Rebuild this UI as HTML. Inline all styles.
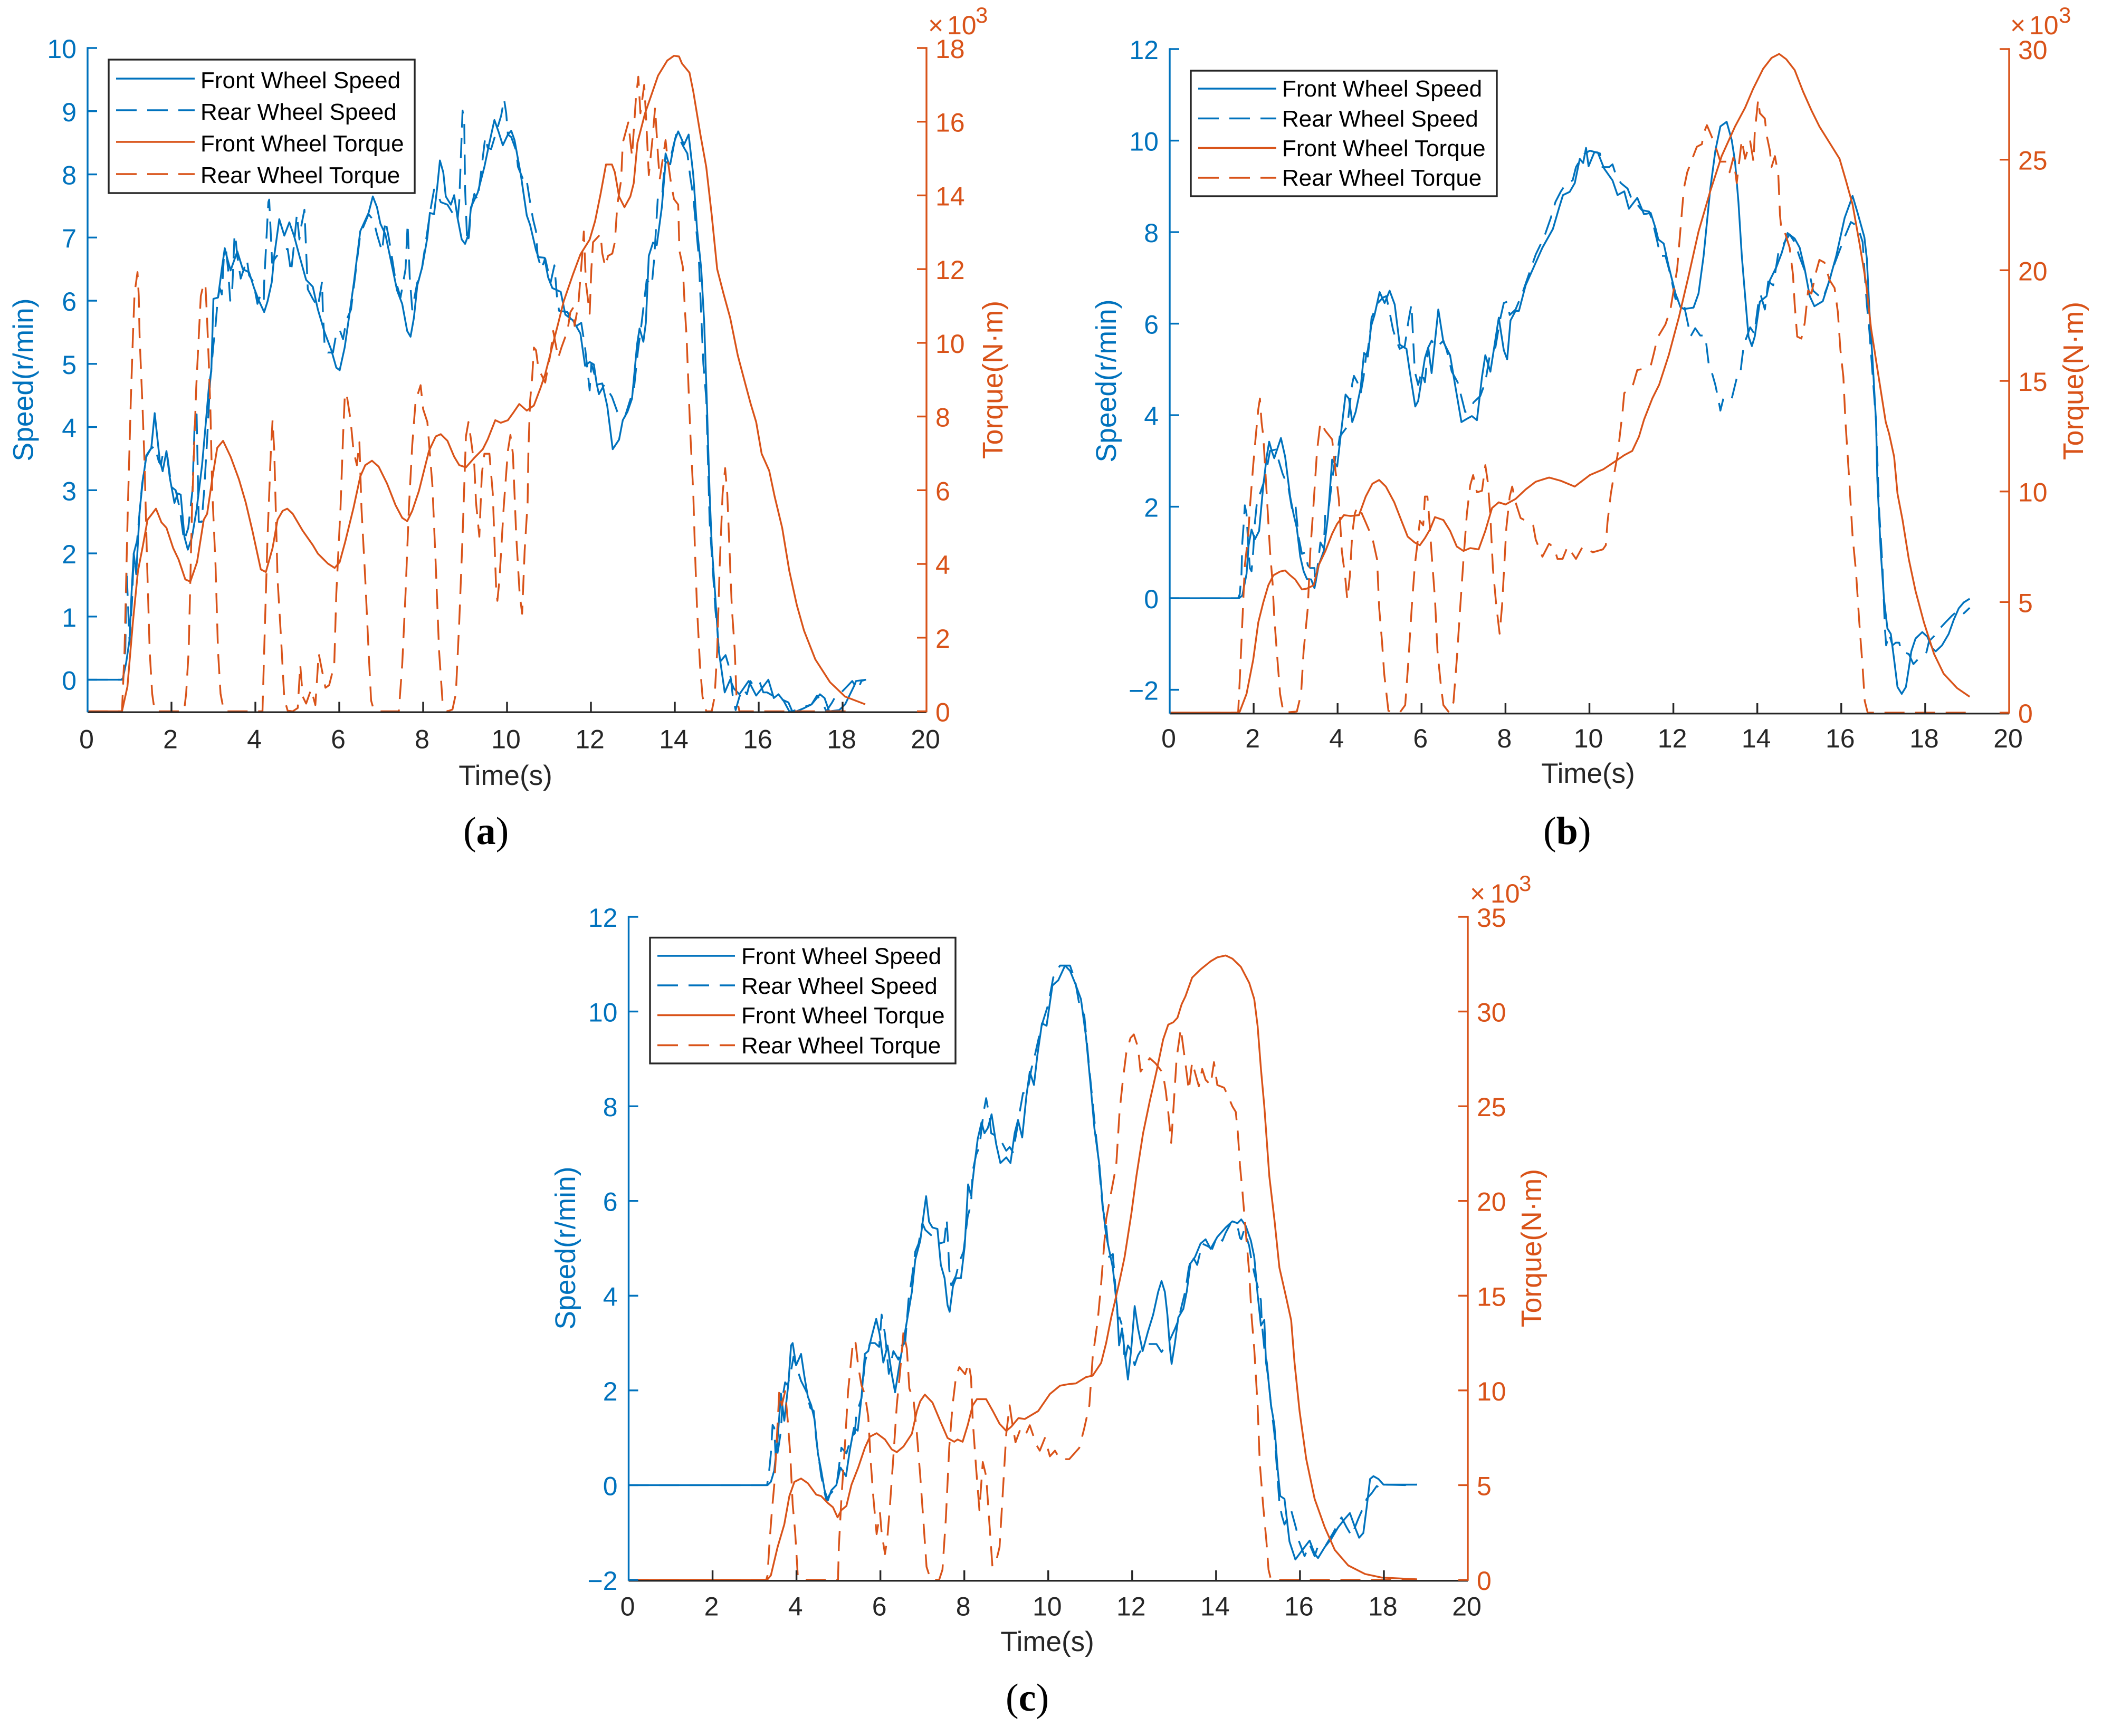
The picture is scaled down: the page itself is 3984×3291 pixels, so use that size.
<!DOCTYPE html>
<html lang="en">
<head>
<meta charset="utf-8">
<title>Wheel speed and torque over time, panels a, b and c</title>
<style>
html,body{margin:0;padding:0;background:#fff}
svg{display:block}
text{font-family:"Liberation Sans",Arial,sans-serif}
.cap{font-family:"Liberation Serif","Times New Roman",serif;font-size:74px;fill:#000}
.cap tspan.b{font-weight:bold}
.lg{font-size:44px;fill:#000}
.tq{fill:#D95319}.sp{fill:#0072BD}
.at{font-size:53.5px}
.tm{font-size:53px;fill:#262626}
.m{font-size:50px;fill:#D95319}
.e{font-size:42px;fill:#D95319}
</style>
</head>
<body>
<svg id="figure" xmlns="http://www.w3.org/2000/svg" width="3984" height="3291" viewBox="0 0 3984 3291">
<rect x="0" y="0" width="3984" height="3291" fill="#fff"/>
<defs>
<clipPath id="clipa"><rect x="166" y="91" width="1590" height="1259.5"/></clipPath>
<clipPath id="clipb"><rect x="2217" y="93" width="1591" height="1260"/></clipPath>
<clipPath id="clipc"><rect x="1191.5" y="1738" width="1590.5" height="1259"/></clipPath>
</defs>

<g id="panel-a">
<g id="marks-a" clip-path="url(#clipa)" fill="none" stroke-width="3.4" stroke-linejoin="round"></g>
<g id="axes-a"></g>
<text class="at sp" transform="translate(62.5 720) rotate(-90)" text-anchor="middle">Speed(r/min)</text>
<text class="at tq" transform="translate(1900 720) rotate(-90)" text-anchor="middle">Torque(N·m)</text>
<text class="tm" x="958" y="1488" text-anchor="middle">Time(s)</text>
<text class="m" x="1759" y="65">×</text>
<text class="m" x="1795" y="65">10</text>
<text class="e" x="1849" y="43">3</text>
<text class="cap" x="878" y="1600">(<tspan class="b">a</tspan>)</text>
<g>
<rect x="206" y="113" width="580" height="253" fill="#fff" stroke="#262626" stroke-width="3.4"/>
<line x1="220" x2="369" y1="149" y2="149" stroke="#0072BD" stroke-width="3.4"/>
<text class="lg" x="380" y="167">Front Wheel Speed</text>
<line x1="220" x2="369" y1="209" y2="209" stroke="#0072BD" stroke-width="3.4" stroke-dasharray="39 20"/>
<text class="lg" x="380" y="227">Rear Wheel Speed</text>
<line x1="220" x2="369" y1="269" y2="269" stroke="#D95319" stroke-width="3.4"/>
<text class="lg" x="380" y="287">Front Wheel Torque</text>
<line x1="220" x2="369" y1="330" y2="330" stroke="#D95319" stroke-width="3.4" stroke-dasharray="39 20"/>
<text class="lg" x="380" y="347">Rear Wheel Torque</text>
</g>
</g>

<g id="panel-b">
<g id="marks-b" clip-path="url(#clipb)" fill="none" stroke-width="3.4" stroke-linejoin="round"></g>
<g id="axes-b"></g>
<text class="at sp" transform="translate(2115 722) rotate(-90)" text-anchor="middle">Speed(r/min)</text>
<text class="at tq" transform="translate(3948 722) rotate(-90)" text-anchor="middle">Torque(N·m)</text>
<text class="tm" x="3010" y="1484" text-anchor="middle">Time(s)</text>
<text class="m" x="3810" y="65">×</text>
<text class="m" x="3846" y="65">10</text>
<text class="e" x="3902" y="43">3</text>
<text class="cap" x="2925" y="1600">(<tspan class="b">b</tspan>)</text>
<g>
<rect x="2257" y="134" width="580" height="238" fill="#fff" stroke="#262626" stroke-width="3.4"/>
<line x1="2271" x2="2419" y1="168" y2="168" stroke="#0072BD" stroke-width="3.4"/>
<text class="lg" x="2430" y="183">Front Wheel Speed</text>
<line x1="2271" x2="2419" y1="224.5" y2="224.5" stroke="#0072BD" stroke-width="3.4" stroke-dasharray="39 20"/>
<text class="lg" x="2430" y="240">Rear Wheel Speed</text>
<line x1="2271" x2="2419" y1="280.5" y2="280.5" stroke="#D95319" stroke-width="3.4"/>
<text class="lg" x="2430" y="296">Front Wheel Torque</text>
<line x1="2271" x2="2419" y1="337" y2="337" stroke="#D95319" stroke-width="3.4" stroke-dasharray="39 20"/>
<text class="lg" x="2430" y="352">Rear Wheel Torque</text>
</g>
</g>

<g id="panel-c">
<g id="marks-c" clip-path="url(#clipc)" fill="none" stroke-width="3.4" stroke-linejoin="round"></g>
<g id="axes-c"></g>
<text class="at sp" transform="translate(1090 2366) rotate(-90)" text-anchor="middle">Speed(r/min)</text>
<text class="at tq" transform="translate(2921 2366) rotate(-90)" text-anchor="middle">Torque(N·m)</text>
<text class="tm" x="1985" y="3130" text-anchor="middle">Time(s)</text>
<text class="m" x="2786" y="1711">×</text>
<text class="m" x="2825" y="1711">10</text>
<text class="e" x="2879" y="1689">3</text>
<text class="cap" x="1906" y="3243">(<tspan class="b">c</tspan>)</text>
<g>
<rect x="1232" y="1777.5" width="579" height="238.5" fill="#fff" stroke="#262626" stroke-width="3.4"/>
<line x1="1246" x2="1393" y1="1812" y2="1812" stroke="#0072BD" stroke-width="3.4"/>
<text class="lg" x="1405" y="1827.5">Front Wheel Speed</text>
<line x1="1246" x2="1393" y1="1868" y2="1868" stroke="#0072BD" stroke-width="3.4" stroke-dasharray="39 20"/>
<text class="lg" x="1405" y="1884">Rear Wheel Speed</text>
<line x1="1246" x2="1393" y1="1924.5" y2="1924.5" stroke="#D95319" stroke-width="3.4"/>
<text class="lg" x="1405" y="1940">Front Wheel Torque</text>
<line x1="1246" x2="1393" y1="1981.5" y2="1981.5" stroke="#D95319" stroke-width="3.4" stroke-dasharray="39 20"/>
<text class="lg" x="1405" y="1997">Rear Wheel Torque</text>
</g>
</g>
</svg>

<script>
// Shared tick labels
const timeTicks=[0,2,4,6,8,10,12,14,16,18,20];
const aSpeedTicks=[0,1,2,3,4,5,6,7,8,9,10];
const aTorqueTicks=[0,2,4,6,8,10,12,14,16,18];
const bSpeedTicks=[-2,0,2,4,6,8,10,12];
const bTorqueTicks=[0,5,10,15,20,25,30];
const cSpeedTicks=[-2,0,2,4,6,8,10,12];
const cTorqueTicks=[0,5,10,15,20,25,30,35];

// Panel (a): [time s, speed r/min]
const aFrontSpeed=[[0,0],[.8,0],[.84,.02],[.92,.27],[1,.63],[1.05,1.4],[1.1,2],[1.16,1.67],[1.24,2.67],[1.32,3.17],[1.4,3.53],[1.52,3.67],[1.6,4.22],[1.72,3.48],[1.79,3.3],[1.88,3.62],[1.96,3.2],[2.07,2.8],[2.15,2.95],[2.22,2.93],[2.31,2.26],[2.39,2.06],[2.49,2.26],[2.6,2.7],[2.73,3.4],[2.82,4.08],[2.9,4.7],[2.95,4.88],[3,6.03],[3.11,6.05],[3.2,6.5],[3.27,6.83],[3.33,6.67],[3.41,6.48],[3.57,6.78],[3.7,6.5],[3.85,6.45],[3.97,6.2],[4.09,5.99],[4.21,5.82],[4.29,5.99],[4.39,6.29],[4.45,6.71],[4.57,7.29],[4.69,7.03],[4.81,7.24],[4.93,7.01],[5.05,6.71],[5.21,6.33],[5.37,6.22],[5.49,5.86],[5.65,5.5],[5.81,5.22],[5.93,4.94],[6.01,4.9],[6.13,5.26],[6.25,5.82],[6.35,6.29],[6.5,7.1],[6.7,7.39],[6.8,7.65],[6.9,7.48],[6.98,7.22],[7.1,7.05],[7.26,6.54],[7.38,6.16],[7.5,5.95],[7.62,5.52],[7.7,5.43],[7.78,5.73],[7.86,6.24],[7.98,6.54],[8.1,7],[8.16,7.39],[8.26,7.37],[8.34,7.82],[8.4,8.22],[8.48,8.03],[8.54,7.65],[8.66,7.52],[8.74,7.67],[8.82,7.31],[8.92,6.97],[9,6.9],[9.08,7.05],[9.14,7.48],[9.3,7.71],[9.46,8.12],[9.58,8.5],[9.7,8.86],[9.8,8.67],[9.9,8.46],[10.02,8.63],[10.1,8.69],[10.18,8.54],[10.33,7.99],[10.47,7.35],[10.55,7.2],[10.69,6.8],[10.75,6.69],[10.89,6.68],[10.98,6.37],[11.08,6.2],[11.28,6.14],[11.39,5.78],[11.57,5.69],[11.75,5.48],[11.86,4.97],[11.97,5.03],[12.07,4.99],[12.14,4.67],[12.27,4.69],[12.39,4.33],[12.52,3.65],[12.67,3.8],[12.76,4.11],[12.87,4.24],[12.98,4.45],[13.1,5.31],[13.16,5.56],[13.25,5.35],[13.31,5.65],[13.38,6.71],[13.48,6.92],[13.57,6.88],[13.69,7.48],[13.78,8.2],[13.89,8.16],[14,8.54],[14.08,8.68],[14.22,8.47],[14.33,8.63],[14.44,7.99],[14.53,7.14],[14.63,6.5],[14.7,5.65],[14.77,4.28],[14.79,3.8],[14.83,2.95],[14.88,2.13],[14.97,1.27],[15.05,.45],[15.19,-.2],[15.32,0],[15.41,-.14],[15.54,-.23],[15.76,-.02],[15.94,-.25],[16.07,-.14],[16.23,0],[16.36,-.29],[16.47,-.23],[16.6,-.34],[16.73,-.5],[16.9,-.5],[17.08,-.45],[17.26,-.39],[17.46,-.23],[17.57,-.29],[17.68,-.5],[17.92,-.48],[18.06,-.39],[18.28,-.09],[18.32,-.02],[18.56,0]];
const aRearSpeed=[[0,0],[.85,0],[.9,.5],[.93,1.75],[1,.6],[1.06,1.25],[1.1,2],[1.18,2.2],[1.3,3.1],[1.4,3.55],[1.5,3.65],[1.6,3.7],[1.7,3.45],[1.75,3.4],[1.8,3.6],[1.9,3.55],[2,3.05],[2.1,3],[2.2,2.7],[2.3,2.2],[2.4,2.4],[2.45,2.7],[2.5,3],[2.55,4],[2.6,4.2],[2.65,2.5],[2.72,2.5],[2.78,3],[2.85,3.8],[2.92,4.7],[3,5.3],[3.05,5.6],[3.1,6],[3.15,6.2],[3.2,6.1],[3.25,6.7],[3.3,6.8],[3.35,6.5],[3.4,6],[3.45,6.2],[3.5,7],[3.52,7.05],[3.57,6.7],[3.65,6.35],[3.75,6.55],[3.8,6.65],[3.85,6.4],[3.95,6.3],[4.05,5.95],[4.1,6.05],[4.2,5.95],[4.21,6.29],[4.31,7.56],[4.33,7.6],[4.4,6.6],[4.5,6.7],[4.65,6.8],[4.77,6.82],[4.85,6.45],[4.9,6.75],[4.99,7.37],[5.05,6.97],[5.1,7.2],[5.17,7.44],[5.21,6.8],[5.25,6.18],[5.37,6.03],[5.49,5.9],[5.59,6.3],[5.61,5.82],[5.65,5.3],[5.73,5.18],[5.85,5.18],[5.93,5.48],[6.01,5.54],[6.09,5.39],[6.17,5.69],[6.28,5.86],[6.5,7.05],[6.7,7.37],[6.82,7.27],[6.9,7.05],[7.02,6.78],[7.1,7.27],[7.18,7],[7.26,6.67],[7.34,6.33],[7.46,6.05],[7.58,6.5],[7.63,7.22],[7.68,6.37],[7.74,5.86],[7.86,6.29],[7.94,6.37],[8.18,7.46],[8.26,7.76],[8.34,7.69],[8.42,7.56],[8.58,7.52],[8.7,7.39],[8.82,7.27],[8.86,7.56],[8.94,9.01],[8.98,8.84],[9,7.78],[9.05,6.92],[9.09,7.01],[9.14,7.44],[9.22,7.69],[9.3,7.6],[9.38,8.03],[9.48,8.59],[9.54,8.42],[9.62,8.4],[9.86,8.93],[9.93,9.19],[9.98,8.97],[10.02,8.63],[10.1,8.59],[10.22,8.37],[10.26,8.12],[10.42,7.86],[10.47,7.9],[10.51,7.73],[10.55,7.56],[10.62,7.29],[10.69,7.1],[10.73,6.71],[10.82,6.5],[10.91,6.67],[11.04,6.29],[11.13,6.56],[11.19,6.07],[11.24,5.84],[11.44,5.82],[11.61,5.58],[11.77,5.65],[11.86,5.26],[11.97,4.58],[12.01,5],[12.1,4.8],[12.19,4.52],[12.32,4.67],[12.5,4.48],[12.63,4.24],[12.8,4.14],[13.03,4.63],[13.12,5.2],[13.2,5.6],[13.33,6.33],[13.45,6.24],[13.51,6.67],[13.6,7.69],[13.7,7.69],[13.78,8.33],[13.86,8.16],[14.04,8.65],[14.22,8.42],[14.3,8.33],[14.37,7.95],[14.44,7.65],[14.48,7.35],[14.57,6.71],[14.61,6.07],[14.68,5],[14.75,4.45],[14.83,2.5],[14.97,1.09],[15.01,.82],[15.04,.54],[15.1,.3],[15.21,.39],[15.28,.23],[15.34,0],[15.38,-.25],[15.45,-.48],[15.54,-.27],[15.63,-.14],[15.72,-.23],[15.8,-.02],[15.89,-.11],[16.03,-.05],[16.11,-.2],[16.2,-.2],[16.38,-.27],[16.51,-.3],[16.71,-.36],[16.8,-.5],[17,-.45],[17.26,-.39],[17.39,-.25],[17.53,-.37],[17.61,-.5],[17.75,-.36],[17.84,-.25],[17.97,-.2],[18.1,-.11],[18.23,-.02],[18.36,-.16],[18.45,-.02],[18.54,0]];
// Panel (a): [time s, torque x10^3 N·m]
const aFrontTorque=[[0,0],[.82,0],[.95,.67],[1.08,2.42],[1.2,3.8],[1.32,4.5],[1.43,5.2],[1.52,5.33],[1.63,5.5],[1.76,5.13],[1.88,4.98],[2.04,4.43],[2.17,4.12],[2.33,3.58],[2.45,3.52],[2.61,4.05],[2.77,5.2],[2.85,5.36],[2.97,6.29],[3.09,7.15],[3.23,7.34],[3.41,6.91],[3.61,6.29],[3.77,5.67],[3.93,4.9],[4.13,3.85],[4.25,3.78],[4.41,4.43],[4.53,5.2],[4.65,5.44],[4.76,5.5],[4.89,5.36],[5.13,4.9],[5.37,4.51],[5.49,4.28],[5.73,4.01],[5.89,3.89],[6.01,4.05],[6.14,4.59],[6.34,5.52],[6.5,6.37],[6.62,6.68],[6.78,6.8],[6.94,6.64],[7.14,6.18],[7.34,5.6],[7.5,5.25],[7.62,5.16],[7.74,5.44],[7.9,5.98],[8.02,6.53],[8.14,7.07],[8.3,7.46],[8.42,7.52],[8.58,7.34],[8.74,6.91],[8.86,6.68],[9.02,6.62],[9.22,6.88],[9.42,7.11],[9.54,7.38],[9.72,7.9],[9.85,7.83],[10.02,7.9],[10.16,8.12],[10.29,8.34],[10.47,8.16],[10.64,8.3],[10.8,8.78],[10.91,9.15],[11.04,9.73],[11.22,10.53],[11.35,11.12],[11.57,11.85],[11.75,12.4],[11.97,12.8],[12.1,13.31],[12.23,14.04],[12.36,14.84],[12.5,14.84],[12.57,14.63],[12.67,13.97],[12.8,13.68],[12.94,13.97],[13.02,14.33],[13.11,15.43],[13.29,16.23],[13.47,16.82],[13.6,17.25],[13.82,17.66],[13.98,17.79],[14.1,17.77],[14.17,17.58],[14.35,17.33],[14.44,16.82],[14.61,15.65],[14.75,14.77],[14.88,13.46],[15.01,12],[15.16,11.34],[15.32,10.68],[15.5,9.66],[15.67,8.93],[15.81,8.34],[15.94,7.85],[16.07,6.99],[16.25,6.53],[16.38,5.83],[16.56,4.98],[16.73,3.81],[16.91,2.88],[17.08,2.19],[17.35,1.41],[17.7,.79],[18.06,.4],[18.54,.19]];
const aRearTorque=[[0,0],[.82,0],[.88,1.64],[.96,5.52],[1.03,8.42],[1.08,10.17],[1.12,11.34],[1.19,11.92],[1.22,11.27],[1.24,10.17],[1.31,8.27],[1.36,6.68],[1.42,3.97],[1.48,1.64],[1.54,.48],[1.6,0],[2.3,0],[2.35,.48],[2.41,1.64],[2.45,3.58],[2.49,5.52],[2.55,7.46],[2.59,8.78],[2.65,10.17],[2.7,11.27],[2.77,11.62],[2.81,11.56],[2.85,10.61],[2.89,9.44],[2.93,8.12],[2.97,6.06],[3.05,3.97],[3.11,1.64],[3.17,.48],[3.25,0],[4.17,0],[4.21,1.64],[4.29,4.74],[4.37,7.07],[4.41,7.9],[4.45,7.07],[4.53,3.58],[4.61,2.03],[4.69,.33],[4.77,.02],[4.89,0],[5.01,.09],[5.07,1.26],[5.13,.4],[5.21,.21],[5.33,.6],[5.43,.17],[5.47,.87],[5.51,1.57],[5.67,.64],[5.76,.71],[5.88,1.26],[5.93,3.19],[6.03,5.52],[6.09,7.46],[6.13,8.49],[6.17,8.65],[6.27,7.9],[6.34,7.07],[6.42,6.68],[6.48,7.3],[6.53,5.52],[6.62,3.58],[6.7,1.64],[6.76,.29],[6.82,.05],[6.94,0],[7.42,0],[7.5,1.26],[7.58,3.19],[7.66,5.52],[7.74,7.22],[7.82,8.42],[7.94,8.85],[8,8.2],[8.1,7.85],[8.22,6.14],[8.3,3.97],[8.38,1.64],[8.46,.29],[8.58,0],[8.7,.05],[8.78,.48],[8.86,2.42],[8.94,4.74],[9.02,7.46],[9.08,7.85],[9.14,7.38],[9.22,6.68],[9.26,5.67],[9.34,4.74],[9.4,6.45],[9.46,6.99],[9.58,6.99],[9.66,5.91],[9.74,3.35],[9.77,3],[9.82,3.58],[9.92,5.52],[10.02,7.07],[10.08,7.5],[10.14,6.99],[10.22,4.74],[10.3,3.19],[10.36,2.65],[10.42,4.36],[10.49,5.67],[10.51,7.07],[10.55,8.42],[10.6,9.07],[10.64,9.87],[10.69,9.8],[10.75,9.29],[10.8,9.18],[10.91,8.92],[11.04,9.73],[11.1,10.32],[11.22,9.59],[11.3,9.88],[11.44,10.32],[11.51,10.83],[11.57,10.94],[11.61,10.46],[11.7,11.05],[11.79,12.36],[11.83,13.02],[11.88,11.63],[11.97,10.79],[12.01,12],[12.05,12.73],[12.23,12.95],[12.27,12.43],[12.34,12.07],[12.41,12.36],[12.51,12.42],[12.57,12.73],[12.63,13.75],[12.72,14.41],[12.76,15.43],[12.89,15.98],[12.98,15.06],[13.07,16.6],[13.13,17.22],[13.18,16.23],[13.27,17],[13.31,16.23],[13.38,14.55],[13.47,15.57],[13.53,16.38],[13.6,15.06],[13.64,14.44],[13.78,15.5],[13.82,15.06],[13.91,14.33],[13.98,13.9],[14.08,13.75],[14.11,12.5],[14.19,12.07],[14.24,10.9],[14.28,10.17],[14.33,8.71],[14.37,7.54],[14.44,5.92],[14.48,4.36],[14.53,2.81],[14.6,1.26],[14.66,.4],[14.75,0],[14.88,0],[14.95,.4],[15.01,1.64],[15.07,3.97],[15.14,5.91],[15.2,6.6],[15.25,5.91],[15.3,4.51],[15.36,2.81],[15.43,1.64],[15.47,.4],[15.54,0],[18.32,0]];

// Panel (b): [time s, speed r/min]
const bFrontSpeed=[[0,0],[1.65,0],[1.73,.06],[1.83,.53],[1.88,1.16],[1.95,1.5],[2.03,1.29],[2.13,1.47],[2.23,2.47],[2.31,3.09],[2.37,3.42],[2.43,3.22],[2.49,3.06],[2.57,3.28],[2.65,3.5],[2.75,3.09],[2.87,2.22],[2.95,1.84],[3.03,1.53],[3.11,.91],[3.19,.59],[3.27,.42],[3.37,.41],[3.45,.22],[3.55,.72],[3.67,1.03],[3.77,1.78],[3.87,3.03],[3.99,2.88],[4.07,3.53],[4.19,4.45],[4.27,4.36],[4.35,3.85],[4.43,4.07],[4.55,4.6],[4.63,5.36],[4.72,5.28],[4.8,5.95],[4.88,6.19],[5,6.69],[5.12,6.45],[5.24,6.72],[5.36,6.42],[5.48,5.54],[5.64,5.45],[5.72,4.95],[5.85,4.19],[5.92,4.31],[6.08,5.25],[6.16,5.48],[6.24,4.92],[6.4,6.31],[6.52,5.6],[6.68,5.31],[6.8,4.66],[6.95,3.85],[7.08,3.92],[7.2,3.98],[7.32,3.89],[7.44,4.84],[7.52,5.31],[7.64,4.95],[7.84,6.13],[7.96,5.42],[8.04,5.22],[8.12,6.07],[8.24,6.28],[8.32,6.28],[8.48,6.84],[8.68,7.25],[8.88,7.66],[9.13,8.07],[9.28,8.54],[9.37,8.81],[9.53,8.88],[9.65,9.07],[9.77,9.6],[9.85,9.51],[9.92,9.84],[9.98,9.44],[10.12,9.75],[10.2,9.74],[10.35,9.39],[10.55,9.13],[10.67,8.81],[10.83,8.89],[10.94,8.51],[11.14,8.75],[11.3,8.39],[11.46,8.42],[11.58,8.07],[11.64,7.84],[11.77,7.75],[11.89,7.25],[12.05,6.66],[12.17,6.36],[12.25,6.32],[12.48,6.35],[12.6,6.66],[12.72,7.48],[12.88,8.95],[13,9.78],[13.12,10.31],[13.27,10.41],[13.39,10.01],[13.47,9.54],[13.55,8.66],[13.63,7.48],[13.71,6.6],[13.79,5.72],[13.87,5.51],[13.94,5.72],[14.06,6.48],[14.22,6.6],[14.3,6.95],[14.46,7.25],[14.58,7.54],[14.72,7.98],[14.89,7.86],[15.01,7.66],[15.13,7.19],[15.25,6.6],[15.36,6.38],[15.56,6.49],[15.72,6.95],[15.88,7.48],[16.08,8.31],[16.27,8.79],[16.39,8.42],[16.55,7.89],[16.61,7.42],[16.67,6.31],[16.75,5.13],[16.83,3.84],[16.86,2.59],[16.94,1.03],[17.02,-.03],[17.1,-.66],[17.18,-.78],[17.26,-1.34],[17.34,-1.94],[17.44,-2.09],[17.54,-1.94],[17.61,-1.53],[17.67,-1.16],[17.77,-.88],[17.93,-.74],[18.05,-.84],[18.17,-1.09],[18.25,-1.16],[18.4,-1.03],[18.56,-.78],[18.68,-.47],[18.8,-.22],[18.92,-.09],[19.06,-.01]];
const bRearSpeed=[[0,0],[1.63,0],[1.67,.09],[1.71,.53],[1.73,1.22],[1.76,1.59],[1.79,2.03],[1.83,1.84],[1.87,1.16],[1.91,.66],[1.95,.59],[1.99,1.03],[2.03,1.66],[2.07,2.03],[2.15,2.28],[2.23,2.5],[2.29,2.72],[2.39,3.22],[2.53,3.25],[2.59,3.03],[2.69,2.72],[2.83,2.41],[2.91,1.97],[2.99,2.09],[3.07,1.34],[3.15,.97],[3.23,1],[3.29,.72],[3.35,.66],[3.45,.66],[3.47,.28],[3.59,1.22],[3.67,1.09],[3.71,1.91],[3.79,1.97],[3.87,2.59],[3.95,3.09],[4.01,3.28],[4.05,3.53],[4.23,3.75],[4.35,4.69],[4.39,4.86],[4.47,4.72],[4.55,4.48],[4.62,4.84],[4.68,5.31],[4.72,5.42],[4.78,5.84],[4.81,6.13],[4.96,6.45],[5.08,6.57],[5.16,6.6],[5.24,6.25],[5.32,5.87],[5.4,5.63],[5.48,5.45],[5.6,5.51],[5.69,6.07],[5.76,6.42],[5.8,5.66],[5.84,4.95],[5.92,4.66],[6,4.95],[6.08,4.72],[6.16,5.48],[6.24,5.63],[6.36,5.48],[6.52,5.63],[6.6,5.42],[6.72,4.95],[6.86,4.72],[6.96,4.36],[7.04,4.07],[7.16,4.13],[7.24,4.28],[7.4,4.42],[7.52,4.72],[7.64,5.39],[7.76,5.48],[7.88,6.13],[7.96,6.45],[8.04,6.48],[8.1,6.19],[8.24,6.31],[8.4,6.66],[8.6,7.19],[8.72,7.51],[8.92,7.89],[9.08,8.31],[9.19,8.66],[9.32,8.89],[9.46,9.08],[9.6,9.13],[9.68,9.42],[9.85,9.69],[10.01,9.78],[10.25,9.72],[10.31,9.42],[10.47,9.42],[10.55,9.48],[10.63,9.25],[10.75,9.07],[10.91,8.95],[11.02,8.69],[11.14,8.6],[11.25,8.48],[11.42,8.45],[11.5,8.25],[11.62,7.78],[11.69,7.48],[11.81,7.48],[11.93,7.07],[12.05,6.54],[12.13,6.54],[12.25,6.42],[12.33,6.07],[12.41,5.72],[12.52,5.9],[12.64,5.74],[12.76,5.74],[12.84,5.13],[12.93,4.89],[13,4.66],[13.08,4.31],[13.12,4.1],[13.19,4.36],[13.31,4.42],[13.39,4.36],[13.51,4.81],[13.59,4.86],[13.63,5.19],[13.68,5.54],[13.83,5.92],[13.93,5.78],[14.02,6.42],[14.08,6.63],[14.18,6.31],[14.26,6.92],[14.38,6.84],[14.5,7.54],[14.65,7.78],[14.77,7.95],[14.89,7.78],[15.01,7.45],[15.13,7.16],[15.25,7.07],[15.33,6.72],[15.44,6.63],[15.56,6.54],[15.68,6.84],[15.84,7.31],[16.08,7.89],[16.23,8.22],[16.39,8.13],[16.51,7.78],[16.55,7.19],[16.61,6.42],[16.67,5.84],[16.75,4.84],[16.83,3.85],[16.9,1.97],[16.98,.72],[17.04,-.66],[17.07,-1.03],[17.14,-.78],[17.22,-1.03],[17.3,-.97],[17.38,-.97],[17.43,-1.16],[17.61,-1.22],[17.72,-1.44],[17.83,-1.33],[18.03,-1.18],[18.09,-.94],[18.21,-.83],[18.38,-.63],[18.48,-.53],[18.64,-.38],[18.8,-.25],[18.92,-.33],[19.06,-.21]];
// Panel (b): [time s, torque x10^3 N·m]
const bFrontTorque=[[0,0],[1.65,0],[1.67,.05],[1.83,.85],[1.99,2.4],[2.11,4.08],[2.23,4.99],[2.35,5.76],[2.47,6.21],[2.63,6.38],[2.75,6.43],[2.87,6.21],[2.99,6.02],[3.15,5.57],[3.27,5.61],[3.43,5.76],[3.55,6.67],[3.71,7.31],[3.87,8.09],[3.99,8.54],[4.15,8.93],[4.31,8.89],[4.51,8.93],[4.67,9.77],[4.83,10.35],[4.99,10.52],[5.15,10.22],[5.35,9.51],[5.51,8.73],[5.67,7.96],[5.83,7.7],[5.96,7.57],[6.08,7.89],[6.2,8.28],[6.32,8.84],[6.52,8.71],[6.68,8.22],[6.84,7.51],[7,7.31],[7.16,7.44],[7.36,7.38],[7.52,8.22],[7.68,9.25],[7.84,9.51],[8,9.41],[8.24,9.66],[8.48,10.09],[8.72,10.44],[9.04,10.63],[9.32,10.48],[9.65,10.22],[10.01,10.74],[10.33,11],[10.63,11.38],[10.83,11.64],[11.02,11.83],[11.18,12.48],[11.3,13.24],[11.5,14.21],[11.66,14.82],[11.89,16.16],[12.13,17.86],[12.37,19.8],[12.6,21.75],[12.88,23.58],[13.15,25.16],[13.47,26.5],[13.71,27.35],[13.9,28.2],[14.14,29.11],[14.34,29.6],[14.52,29.78],[14.69,29.54],[14.89,29.05],[15.09,28.08],[15.29,27.23],[15.48,26.5],[15.72,25.77],[15.96,25.04],[16.11,24.06],[16.27,22.97],[16.43,21.27],[16.59,19.44],[16.71,17.37],[16.86,15.55],[17.06,13.14],[17.14,12.61],[17.26,11.57],[17.34,9.9],[17.46,8.72],[17.61,6.93],[17.77,5.5],[17.97,4.08],[18.21,2.66],[18.44,1.76],[18.76,1.11],[19.06,.72]];
const bRearTorque=[[0,0],[1.63,0],[1.67,1.5],[1.73,4.08],[1.79,6.67],[1.87,8],[1.91,9.25],[1.99,11.2],[2.05,12.5],[2.11,13.72],[2.15,14.2],[2.19,13.1],[2.23,12.5],[2.31,9.9],[2.39,7.31],[2.45,5.89],[2.49,4.34],[2.55,2.79],[2.63,.85],[2.71,0],[3.03,.05],[3.13,.85],[3.19,2.79],[3.29,4.73],[3.35,7.31],[3.43,9.51],[3.51,11.83],[3.59,13.13],[3.71,12.74],[3.87,12.35],[3.95,10.93],[4.03,9.64],[4.1,7.31],[4.18,6.15],[4.23,5.12],[4.29,6.15],[4.35,8.09],[4.41,8.99],[4.47,9.32],[4.55,9.12],[4.67,8.6],[4.83,7.89],[4.94,6.93],[4.99,4.73],[5.06,3.18],[5.11,1.76],[5.21,.08],[5.48,0],[5.61,.34],[5.68,2.14],[5.77,4.86],[5.84,6.67],[5.89,7.44],[5.96,8.67],[6.04,8.47],[6.08,9.77],[6.14,9.77],[6.18,8.86],[6.24,7.18],[6.32,5.12],[6.38,2.79],[6.46,1.24],[6.52,.34],[6.66,0],[6.76,.47],[6.84,2.4],[6.92,4.73],[7,6.93],[7.08,8.99],[7.16,10.28],[7.23,10.74],[7.32,9.96],[7.44,10.03],[7.52,11.19],[7.58,10.41],[7.64,8.86],[7.7,6.54],[7.78,4.86],[7.86,3.57],[7.92,4.86],[8.02,8.35],[8.1,9.77],[8.16,10.22],[8.24,9.51],[8.36,8.8],[8.56,8.6],[8.66,8.47],[8.72,7.83],[8.88,7.05],[9.04,7.64],[9.16,7.44],[9.24,6.95],[9.36,6.95],[9.48,7.51],[9.68,6.95],[9.84,7.51],[10.08,7.25],[10.32,7.38],[10.39,7.57],[10.43,8.6],[10.51,9.9],[10.59,10.8],[10.67,11.64],[10.79,13.6],[10.83,14.45],[11.02,14.7],[11.14,15.49],[11.3,15.55],[11.46,15.67],[11.54,16.28],[11.62,16.95],[11.81,17.55],[11.93,18.22],[12.09,20.05],[12.17,21.87],[12.25,23.7],[12.33,24.43],[12.45,25.04],[12.56,25.58],[12.68,25.7],[12.72,26.19],[12.8,26.56],[12.92,26.01],[13.04,25.4],[13.12,24.91],[13.27,24.91],[13.34,24.43],[13.43,25.1],[13.51,23.94],[13.55,24.61],[13.63,25.89],[13.71,25.04],[13.83,25.83],[13.91,24.91],[13.94,26.25],[14.02,27.71],[14.06,27.1],[14.18,26.86],[14.22,26.13],[14.3,25.4],[14.34,24.67],[14.42,25.16],[14.5,24.31],[14.54,22.48],[14.58,21.75],[14.65,21.75],[14.77,21.02],[14.85,19.8],[14.89,18.47],[14.95,17],[15.05,16.91],[15.13,17.62],[15.21,19.08],[15.29,18.95],[15.4,19.93],[15.48,20.47],[15.6,20.35],[15.72,19.56],[15.84,19.2],[15.92,18.1],[15.98,16.4],[16.05,15.18],[16.1,13.14],[16.19,10.54],[16.27,7.96],[16.35,6.41],[16.43,4.08],[16.51,2.02],[16.56,.53],[16.63,0],[19.06,0]];

// Panel (c): [time s, speed r/min]
const cFrontSpeed=[[0,0],[3.31,0],[3.39,.07],[3.47,.31],[3.55,.97],[3.63,1.93],[3.71,1.36],[3.81,2.17],[3.87,2.95],[3.91,3],[3.99,2.53],[4.11,2.77],[4.19,2.29],[4.27,1.87],[4.35,1.69],[4.43,1.39],[4.51,.67],[4.59,.31],[4.67,-.11],[4.75,-.32],[4.83,-.11],[4.95,0],[5.05,.37],[5.18,.19],[5.27,.73],[5.37,1.21],[5.46,1.15],[5.55,1.87],[5.63,2.77],[5.71,2.83],[5.79,3.13],[5.9,3.51],[5.98,3.19],[6.07,2.59],[6.17,2.95],[6.27,2.35],[6.35,1.96],[6.43,2.41],[6.55,3.04],[6.67,3.66],[6.75,4.08],[6.83,4.76],[6.95,5.16],[7.04,5.78],[7.09,6.1],[7.16,5.56],[7.24,5.44],[7.36,5.41],[7.44,4.65],[7.53,4.37],[7.6,3.8],[7.65,3.66],[7.73,4.2],[7.8,4.37],[7.92,4.37],[8.01,5.05],[8.09,6.35],[8.16,6.12],[8.24,6.75],[8.32,7.31],[8.41,7.66],[8.48,7.43],[8.56,7.54],[8.65,7.83],[8.76,7.2],[8.86,6.8],[9,6.92],[9.1,6.8],[9.2,7.43],[9.28,7.71],[9.38,7.34],[9.48,8.22],[9.56,8.73],[9.66,8.45],[9.74,9.07],[9.85,9.75],[9.96,9.7],[10.1,10.55],[10.24,10.66],[10.4,10.97],[10.52,10.86],[10.64,10.6],[10.78,10.26],[10.9,9.47],[11.02,8.34],[11.1,7.54],[11.22,6.75],[11.3,5.9],[11.38,5.27],[11.46,4.93],[11.54,4.59],[11.62,3.91],[11.64,3.78],[11.69,2.95],[11.76,3.31],[11.82,2.83],[11.9,2.23],[11.98,2.89],[12.06,3.78],[12.14,3.31],[12.25,2.83],[12.38,3.25],[12.5,3.6],[12.62,4.08],[12.7,4.31],[12.78,4.08],[12.84,3.6],[12.9,2.89],[12.94,2.56],[13.02,3],[13.1,3.54],[13.22,3.72],[13.3,4.08],[13.39,4.68],[13.5,4.82],[13.63,5.1],[13.75,5.19],[13.87,4.99],[14.03,5.24],[14.23,5.44],[14.39,5.57],[14.51,5.53],[14.6,5.61],[14.71,5.47],[14.83,5.16],[14.91,4.82],[14.99,4.03],[15.07,3.37],[15.15,3.49],[15.19,2.59],[15.24,2.29],[15.31,1.69],[15.39,1.27],[15.47,.31],[15.53,-.23],[15.63,-.29],[15.75,-1.19],[15.89,-1.57],[15.99,-1.45],[16.11,-1.31],[16.23,-1.17],[16.35,-1.45],[16.43,-1.54],[16.59,-1.31],[16.75,-1.13],[16.91,-.89],[17.07,-.71],[17.19,-.59],[17.31,-.89],[17.41,-1.11],[17.51,-1.01],[17.59,-.47],[17.67,.13],[17.75,.19],[17.87,.13],[17.99,.01],[18.79,.01]];
const cRearSpeed=[[0,0],[3.3,0],[3.35,.31],[3.39,.67],[3.43,1.27],[3.47,1.21],[3.51,.49],[3.57,.79],[3.63,1.15],[3.67,1.87],[3.73,2.17],[3.79,2.11],[3.87,2.41],[3.93,2.71],[4.01,2.47],[4.11,2.2],[4.23,1.99],[4.33,1.63],[4.41,1.57],[4.47,.97],[4.59,.19],[4.71,-.32],[4.79,-.2],[4.95,-.05],[5.07,.79],[5.19,.67],[5.31,1.03],[5.39,1.09],[5.43,1.51],[5.55,1.84],[5.63,2.59],[5.75,3],[5.87,3],[5.97,2.92],[6.03,3.6],[6.11,3.19],[6.2,2.35],[6.31,2.83],[6.43,2.65],[6.51,2.95],[6.59,3],[6.67,3.91],[6.75,4.37],[6.83,4.93],[6.91,5.1],[7,5.53],[7.07,5.39],[7.28,5.22],[7.4,5.1],[7.52,5.13],[7.58,5.61],[7.61,5.16],[7.64,4.56],[7.69,4.22],[7.8,4.42],[7.88,4.71],[7.98,4.93],[8.08,5.67],[8.16,5.93],[8.2,6.63],[8.28,6.97],[8.36,7.14],[8.46,7.88],[8.52,8.17],[8.6,7.77],[8.64,7.43],[8.76,7.37],[8.88,7.26],[9,7.06],[9.08,7.14],[9.16,7.03],[9.24,7.43],[9.32,7.88],[9.4,8.28],[9.5,8.28],[9.6,8.79],[9.68,9.07],[9.78,9.47],[9.88,9.81],[10,10.15],[10.12,10.72],[10.28,10.97],[10.52,10.97],[10.64,10.66],[10.74,10.15],[10.86,9.92],[10.98,8.79],[11.1,7.71],[11.18,7.03],[11.3,5.84],[11.38,5.5],[11.45,4.82],[11.54,4.88],[11.66,3.5],[11.7,3.54],[11.78,3.31],[11.82,2.6],[11.9,2.95],[11.98,2.83],[12.06,2.53],[12.14,2.74],[12.22,2.86],[12.38,2.98],[12.58,2.98],[12.7,2.81],[12.78,2.92],[12.9,3.07],[13.02,3.3],[13.1,3.48],[13.18,3.78],[13.27,4.11],[13.35,4.59],[13.43,4.85],[13.55,4.65],[13.67,5.1],[13.79,5.05],[13.91,4.99],[14.03,5.27],[14.15,5.16],[14.23,5.33],[14.35,5.53],[14.51,5.47],[14.57,5.22],[14.6,5.19],[14.67,5.39],[14.79,5.05],[14.83,4.82],[14.91,4.48],[14.99,4.2],[15.07,3.9],[15.09,3.43],[15.15,2.89],[15.21,2.59],[15.31,1.69],[15.39,1.09],[15.51,-.38],[15.57,-.65],[15.63,-.83],[15.79,-.53],[15.91,-.92],[15.97,-1.17],[16.11,-1.5],[16.23,-1.25],[16.35,-1.5],[16.43,-1.28],[16.59,-1.31],[16.79,-1.01],[16.99,-.68],[17.11,-.89],[17.23,-1.07],[17.39,-.71],[17.51,-.47],[17.59,-.29],[17.71,-.17],[17.83,-.02],[17.95,-.08],[18.03,.01],[18.51,0],[18.59,.04],[18.79,.01]];
// Panel (c): [time s, torque x10^3 N·m]
const cFrontTorque=[[0,0],[3.3,0],[3.39,.24],[3.55,1.73],[3.71,2.93],[3.83,4.42],[3.95,5.17],[4.11,5.35],[4.27,5.1],[4.47,4.5],[4.59,4.42],[4.75,4.05],[4.87,3.83],[4.98,3.3],[5.07,3.68],[5.19,3.9],[5.31,5.02],[5.47,5.92],[5.63,6.97],[5.75,7.56],[5.91,7.74],[6.11,7.41],[6.27,6.89],[6.39,6.74],[6.55,7.04],[6.75,7.71],[6.87,8.91],[6.95,9.43],[7.06,9.78],[7.24,9.36],[7.44,8.31],[7.6,7.49],[7.76,7.29],[7.84,7.41],[7.96,7.29],[8.08,8.16],[8.2,9.21],[8.3,9.54],[8.52,9.54],[8.68,8.91],[8.84,8.24],[9,7.86],[9.12,8.09],[9.29,8.54],[9.44,8.49],[9.76,8.91],[10.04,9.81],[10.28,10.25],[10.48,10.33],[10.66,10.37],[10.9,10.7],[11.06,10.78],[11.26,11.45],[11.38,12.5],[11.5,13.84],[11.58,14.6],[11.7,15.77],[11.82,17.04],[11.98,19.31],[12.1,21.3],[12.26,23.57],[12.42,25.27],[12.58,26.83],[12.74,28.53],[12.86,29.31],[12.98,29.43],[13.08,29.67],[13.18,30.38],[13.27,30.8],[13.43,31.79],[13.63,32.22],[13.87,32.65],[14.03,32.86],[14.23,32.96],[14.39,32.79],[14.59,32.36],[14.79,31.51],[14.91,30.66],[14.99,29.24],[15.07,26.97],[15.15,24.99],[15.27,21.3],[15.39,19.03],[15.51,16.48],[15.67,14.91],[15.79,13.7],[15.87,11.46],[15.99,8.91],[16.15,6.37],[16.35,4.27],[16.59,2.78],[16.83,1.58],[17.15,.76],[17.55,.31],[17.95,.12],[18.79,.03]];
const cRearTorque=[[0,0],[3.28,0],[3.31,.24],[3.35,1.73],[3.41,3.53],[3.47,5.02],[3.51,6.52],[3.59,9.96],[3.65,9.21],[3.73,9.96],[3.79,8.46],[3.85,6.67],[3.91,3.98],[3.97,2.48],[4.03,.24],[4.11,0],[4.99,0],[5.01,1.73],[5.07,4.27],[5.15,6.97],[5.23,9.96],[5.31,11.75],[5.35,12.65],[5.41,12.5],[5.47,11.3],[5.55,10.25],[5.63,9.81],[5.71,8.61],[5.77,6.22],[5.83,4.42],[5.91,2.41],[5.99,3.53],[6.03,2.48],[6.11,1.36],[6.17,2.33],[6.23,3.98],[6.31,6.52],[6.39,9.21],[6.47,11],[6.55,13.09],[6.63,12.2],[6.69,10.1],[6.79,9.51],[6.87,7.71],[6.95,5.47],[7.03,2.93],[7.1,.69],[7.2,0],[7.4,0],[7.48,.54],[7.56,3.23],[7.64,6.97],[7.72,9.21],[7.8,10.7],[7.88,11.23],[8.02,10.85],[8.1,11.45],[8.16,10.7],[8.2,8.46],[8.28,5.92],[8.36,3.68],[8.44,6.22],[8.52,5.47],[8.6,2.93],[8.67,.69],[8.76,.99],[8.84,1.73],[8.92,4.72],[9,7.71],[9.08,9.21],[9.14,8.31],[9.22,7.26],[9.32,7.86],[9.44,7.56],[9.56,8.16],[9.72,7.11],[9.8,6.82],[9.92,7.49],[10.04,6.52],[10.16,6.82],[10.28,6.37],[10.5,6.37],[10.74,6.97],[10.86,8.01],[10.98,9.21],[11.06,11.75],[11.18,13.69],[11.26,15.62],[11.38,19.03],[11.5,20.45],[11.62,21.87],[11.7,24.7],[11.78,26.4],[11.86,27.82],[11.96,28.6],[12.04,28.79],[12.14,28.11],[12.2,26.83],[12.34,27.26],[12.42,27.54],[12.56,27.26],[12.73,26.76],[12.8,25.84],[12.86,24.7],[12.93,23.07],[12.98,24.7],[13.06,27.54],[13.16,29.1],[13.27,27.26],[13.35,25.84],[13.43,27.33],[13.51,26.69],[13.59,26.05],[13.67,26.97],[13.75,26.4],[13.87,26.12],[13.95,27.33],[14.03,26.12],[14.19,25.98],[14.27,25.62],[14.39,24.99],[14.47,24.7],[14.52,23.57],[14.57,21.87],[14.63,20.45],[14.71,18.32],[14.79,16.19],[14.85,13.81],[14.91,12.2],[14.99,9.21],[15.04,6.22],[15.12,3.98],[15.2,2.03],[15.25,.54],[15.31,0],[18.79,0]];

const SVGNS='http://www.w3.org/2000/svg';
const BLUE='#0072BD',ORANGE='#D95319',DARK='#262626';

function makeScale(d0,d1,p0,p1){return function(v){return p0+(v-d0)*(p1-p0)/(d1-d0);};}

function addLine(host,x1,y1,x2,y2,color,width,name){
  const el=document.createElementNS(SVGNS,'line');
  el.setAttribute('x1',x1);el.setAttribute('y1',y1);el.setAttribute('x2',x2);el.setAttribute('y2',y2);
  el.setAttribute('stroke',color);el.setAttribute('stroke-width',width);
  
  
  host.appendChild(el);
}
function addLabel(host,x,y,str,color,anchor,name){
  const el=document.createElementNS(SVGNS,'text');
  el.setAttribute('x',x);el.setAttribute('y',y);el.setAttribute('fill',color);
  el.setAttribute('font-size','50');el.setAttribute('text-anchor',anchor);
  el.textContent=str;
  
  
  host.appendChild(el);
}
function addSeries(host,points,sx,sy,color,dashed,name){
  const el=document.createElementNS(SVGNS,'path');
  el.setAttribute('d',points.map(function(p,i){return (i?'L':'M')+sx(p[0]).toFixed(1)+' '+sy(p[1]).toFixed(1);}).join(''));
  el.setAttribute('stroke',color);
  if(dashed)el.setAttribute('stroke-dasharray','38 20');
  
  
  host.appendChild(el);
}
function drawPanel(id,box,spRange,tqRange,spTicks,tqTicks,series,xLabelGap){
  const sx=makeScale(0,20,box.x0,box.x1);
  const sy=makeScale(spRange[0],spRange[1],box.y0,box.y1);
  const ty=makeScale(tqRange[0],tqRange[1],box.y0,box.y1);
  const marks=document.getElementById('marks-'+id);
  const axes=document.getElementById('axes-'+id);
  addSeries(marks,series[0],sx,sy,BLUE,false,'front-wheel-speed-line');
  addSeries(marks,series[1],sx,sy,BLUE,true,'rear-wheel-speed-line');
  addSeries(marks,series[2],sx,ty,ORANGE,false,'front-wheel-torque-line');
  addSeries(marks,series[3],sx,ty,ORANGE,true,'rear-wheel-torque-line');
  addLine(axes,box.x0,box.y0+1.7,box.x1,box.y0+1.7,DARK,3.4,'time-axis-line');
  addLine(axes,box.x0,box.y0+1.7,box.x0,box.y1-1.7,BLUE,3.4,'speed-axis-line');
  addLine(axes,box.x1,box.y0+1.7,box.x1,box.y1-1.7,ORANGE,3.4,'torque-axis-line');
  timeTicks.forEach(function(t){
    if(t>0&&t<20)addLine(axes,sx(t),box.y0,sx(t),box.y0-18,DARK,3.4,'time-tick');
    addLabel(axes,sx(t)-2,box.y0+xLabelGap,String(t),DARK,'middle','time-tick-label');
  });
  spTicks.forEach(function(v){
    addLine(axes,box.x0,sy(v),box.x0+18,sy(v),BLUE,3.4,'speed-tick');
    addLabel(axes,box.x0-21,sy(v)+19,(v<0?'\u2212':'')+Math.abs(v),BLUE,'end','speed-tick-label');
  });
  tqTicks.forEach(function(v){
    addLine(axes,box.x1,ty(v),box.x1-18,ty(v),ORANGE,3.4,'torque-tick');
    addLabel(axes,box.x1+17,ty(v)+19,String(v),ORANGE,'start','torque-tick-label');
  });
}
drawPanel('a',{x0:166,x1:1756,y0:1348.5,y1:91},[-.5,10],[0,18],aSpeedTicks,aTorqueTicks,[aFrontSpeed,aRearSpeed,aFrontTorque,aRearTorque],70);
drawPanel('b',{x0:2217,x1:3808,y0:1351,y1:93},[-2.5,12],[0,30],bSpeedTicks,bTorqueTicks,[bFrontSpeed,bRearSpeed,bFrontTorque,bRearTorque],66);
drawPanel('c',{x0:1191.5,x1:2782,y0:2995,y1:1738},[-2,12],[0,35],cSpeedTicks,cTorqueTicks,[cFrontSpeed,cRearSpeed,cFrontTorque,cRearTorque],67.5);
</script>
</body>
</html>
